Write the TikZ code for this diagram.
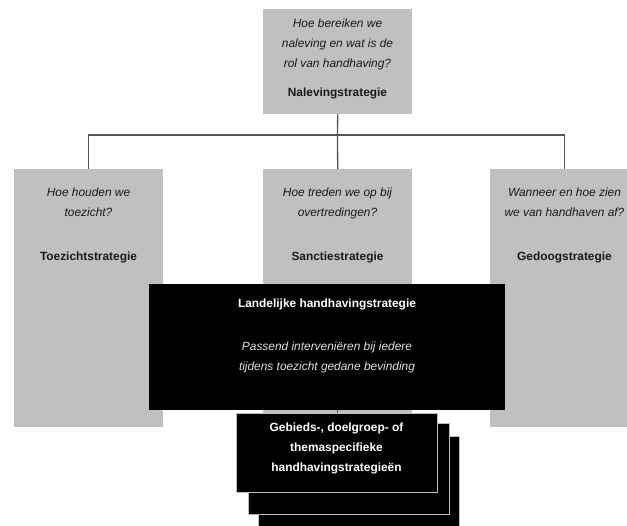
\documentclass[tikz,border=0pt]{standalone}
\usepackage{fontspec}
\setmainfont{Liberation Sans}
\usepackage{xcolor}
\definecolor{boxgrey}{HTML}{C0C0C0}
\definecolor{linegrey}{HTML}{555555}
\definecolor{textdark}{HTML}{1A1A1A}
\definecolor{edgegrey}{HTML}{BDBDBD}

\begin{document}
\begin{tikzpicture}[x=1pt, y=-1pt,
    greybox/.style = {fill=boxgrey, inner sep=0pt, minimum width=149pt, anchor=north west},
    blackbox/.style = {fill=black, inner sep=0pt, anchor=north west},
    stackbox/.style = {fill=black, draw=edgegrey, line width=.8pt, inner sep=0pt, anchor=north west, minimum width=201pt},
    question/.style = {font=\fontsize{11.9}{20}\selectfont\itshape, text=textdark, align=center, inner sep=0pt, anchor=base},
    title/.style = {font=\fontsize{11.9}{20}\selectfont\bfseries, text=textdark, align=center, inner sep=0pt, anchor=base},
    link/.style = {draw=linegrey, line width=1.3pt}]
      \useasboundingbox (0,0) rectangle (627,526);
      \clip (0,0) rectangle (627,526);
      \node [greybox, minimum height=105pt] (nalbox) at (263,9) {};
      \node [greybox, minimum height=258pt] (toezbox) at (14,169) {};
      \node [greybox, minimum height=258pt] (sancbox) at (263,169) {};
      \node [greybox, minimum height=258pt] (gedbox) at (490,169) {};
      \node [question] (nalq) at (337.5,68) {Hoe bereiken we\\naleving en wat is de\\rol van handhaving?};
      \node [title] (nalt) at (337.5,97) {Nalevingstrategie};
      \node [question] (toezq) at (88.5,217) {Hoe houden we\\toezicht?};
      \node [title] (toezt) at (88.5,261) {Toezichtstrategie};
      \node [question] (sancq) at (337.5,217) {Hoe treden we op bij\\overtredingen?};
      \node [title] (sanct) at (337.5,261) {Sanctiestrategie};
      \node [question] (gedq) at (564.5,217) {Wanneer en hoe zien\\we van handhaven af?};
      \node [title] (gedt) at (564.5,261) {Gedoogstrategie};
      \coordinate (split) at (337.5,135);
      \draw [link] (nalbox.south) -- (split);
      \draw [link] (toezbox.north) |- (split) -| (gedbox.north);
      \draw [link] (split) -- (sancbox.north);
      \node [blackbox, minimum width=356pt, minimum height=126pt] (landbox) at (149,284) {};
      \node [title, text=white] (landt) at (327,308) {Landelijke handhavingstrategie};
      \node [question, text=white!88!black] (landq) at (327,371) {Passend interveniëren bij iedere\\tijdens toezicht gedane bevinding};
      \node [stackbox, minimum height=100pt] (stackc) at (258,436) {};
      \node [stackbox, minimum height=91pt] (stackb) at (248,423) {};
      \node [stackbox, minimum height=79pt] (stacka) at (236,413) {};
      \node [title, text=white] (gebt) at (336.5,472) {Gebieds-, doelgroep- of\\themaspecifieke\\handhavingstrategieën};
      \draw [link] (stacka.north -| sancbox.north) -- (landbox.south -| sancbox.north);
    \end{tikzpicture}
\end{document}
